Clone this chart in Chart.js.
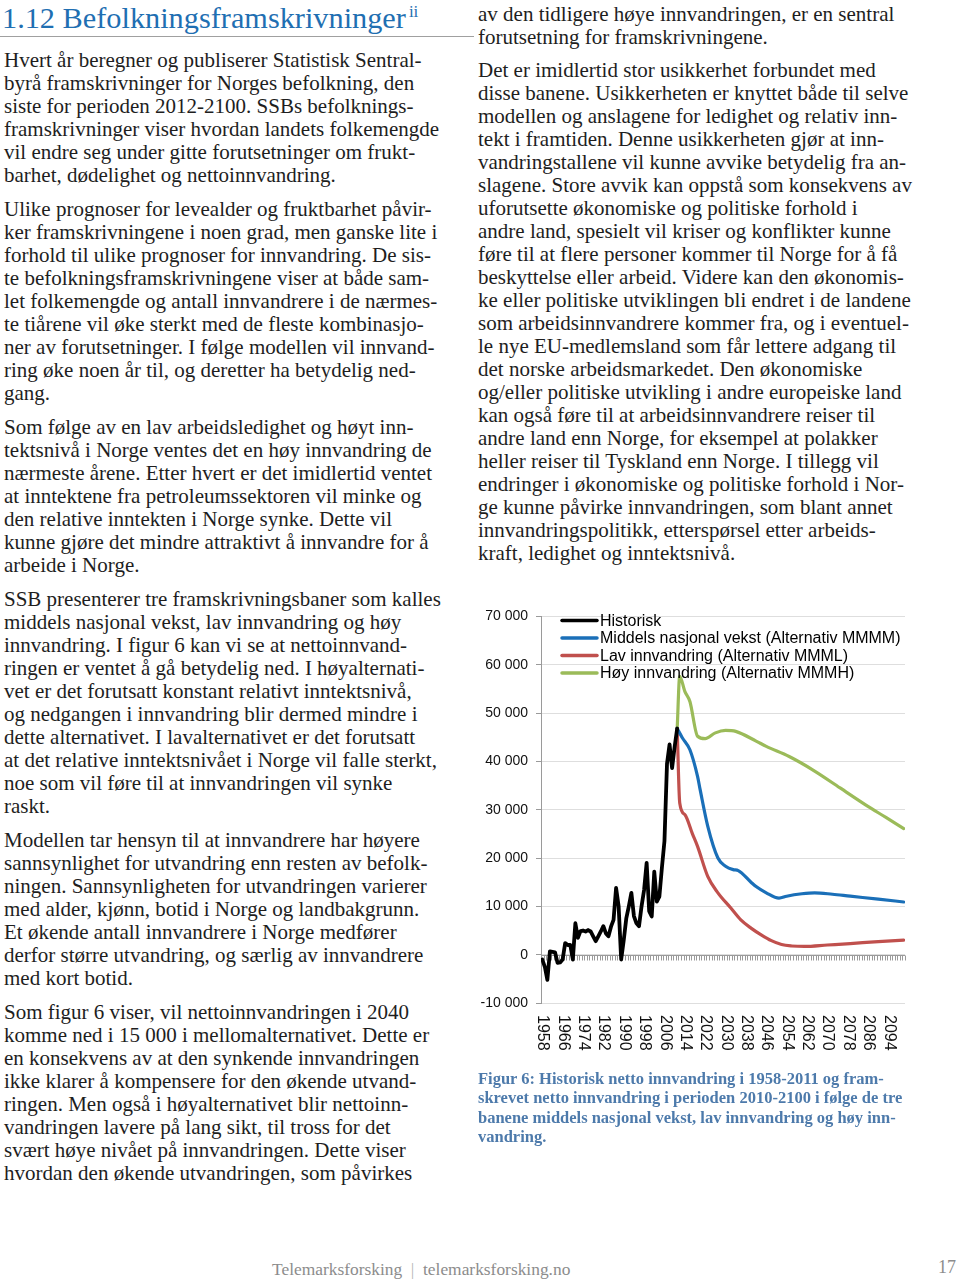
<!DOCTYPE html>
<html><head><meta charset="utf-8">
<script src="https://cdn.jsdelivr.net/npm/chart.js@4"></script>
<style>
html,body{margin:0;padding:0;background:#fff;}
#page{position:relative;width:960px;height:1279px;overflow:hidden;}
.t{position:absolute;white-space:nowrap;font-family:'Liberation Serif',serif;color:#1e1e1e;}
.b{font-size:21px;line-height:23px;}
.cap{font-size:16.5px;line-height:19px;font-weight:bold;color:#4d7aab;}
#title{left:2px;top:3px;font-size:30.3px;line-height:30px;color:#1f6fb2;}
#title sup{font-size:17px;vertical-align:0;position:relative;top:-11px;margin-left:3px;}
#rule{position:absolute;left:0;top:36px;width:474px;height:1px;background:#a0a0a0;}
#foot{left:272px;top:1259px;font-size:17.4px;line-height:20px;color:#8c8c8c;}
#pnum{left:938px;top:1257px;font-size:18px;line-height:20px;color:#8c8c8c;}
#c{position:absolute;left:470px;top:600px;}
</style></head>
<body><div id="page">
<div id="title" class="t">1.12 Befolkningsframskrivninger<sup>ii</sup></div>
<div id="rule"></div>
<canvas id="c" width="450" height="470"></canvas>
<div id="foot" class="t">Telemarksforsking &nbsp;<span style="color:#b5b5b5">|</span>&nbsp; telemarksforsking.no</div>
<div id="pnum" class="t">17</div>
</div>
<script>
// ---------- chart data ----------
const histYears = Array.from({length: 54}, (_, i) => 1958 + i);
const historisk = [-1000,-2500,-5200,700,600,500,-1700,-1600,-1000,2400,2000,2000,-1000,6500,3500,4900,5000,4800,5100,4800,3800,2800,3800,4800,5900,4400,3800,5800,7200,13800,10000,-1000,3000,7500,10000,12800,8000,6500,5900,10000,13400,19000,9000,7900,17200,11000,12000,18000,23500,39500,43500,38600,43000,46800];
const midYears = [2011,2013,2016,2019,2020,2023,2027,2030,2033,2035,2040,2042,2046,2051,2054,2060,2065,2072,2079,2090,2100];
const middels  = [46800,44900,42400,36900,34200,26600,20000,18300,17600,17400,15000,14100,12800,11700,12100,12600,12800,12500,12100,11500,10900];
const lavYears = [2011,2012,2014,2017,2019,2023,2027,2032,2036,2040,2044,2048,2052,2056,2061,2070,2079,2090,2100];
const lav      = [46800,31400,29000,25000,22400,16200,12800,9700,7200,5500,4100,2900,2100,1800,1700,2000,2300,2700,3000];
const hoyYears = [2011,2012,2014,2016,2019,2022,2026,2030,2034,2042,2046,2055,2065,2075,2085,2093,2100];
const hoy      = [46800,57600,54500,52400,45200,44700,45900,46400,46200,44200,43100,41000,38000,34500,31000,28400,26100];
const seriesNames = ['Historisk','Middels nasjonal vekst (Alternativ MMMM)','Lav innvandring (Alternativ MMML)','Høy innvandring (Alternativ MMMH)'];
const seriesColors = ['#000000','#1a6fb8','#c0504d','#9bbb59'];
const xTickLabels = ['1958','1966','1974','1982','1990','1998','2006','2014','2022','2030','2038','2046','2054','2062','2070','2078','2086','2094'];
const yTickValues = [-10000,0,10000,20000,30000,40000,50000,60000,70000];
const yTickLabels = ['-10 000','0','10 000','20 000','30 000','40 000','50 000','60 000','70 000'];
const firstYear = 1958, lastYear = 2100;

const pts = (xs, ys) => xs.map((x, i) => ({x: x, y: ys[i]}));

const zeroAxis = {
  id: 'zeroAxis',
  beforeDatasetsDraw(chart) {
    const {ctx, chartArea, scales: {x, y}} = chart;
    const y0 = Math.round(y.getPixelForValue(0)) + 0.5;
    ctx.save();
    ctx.strokeStyle = '#9a9a9a'; ctx.lineWidth = 1;
    ctx.beginPath();
    ctx.moveTo(chartArea.left, y0); ctx.lineTo(chartArea.right, y0);
    for (let yr = firstYear - 0.5; yr <= lastYear + 0.5; yr += 1) {
      const px = Math.round(x.getPixelForValue(yr)) + 0.5;
      ctx.moveTo(px, y0); ctx.lineTo(px, y0 + 5);
    }
    ctx.stroke();
    ctx.restore();
  },
  afterDraw(chart) {
    const {ctx, chartArea, scales: {x}} = chart;
    ctx.save();
    ctx.fillStyle = '#111';
    ctx.font = '16px "Liberation Sans", Arial, sans-serif';
    ctx.textAlign = 'left'; ctx.textBaseline = 'middle';
    xTickLabels.forEach(lab => {
      const px = x.getPixelForValue(Number(lab));
      ctx.save();
      ctx.translate(px + 0.5, chartArea.bottom + 12);
      ctx.rotate(Math.PI / 2);
      ctx.fillText(lab, 0, 0);
      ctx.restore();
    });
    // legend
    ctx.font = '16px "Liberation Sans", Arial, sans-serif';
    ctx.fillStyle = '#000';
    chart.data.datasets.forEach((ds, i) => {
      const ly = chartArea.top + 4 + i * 17.5;
      ctx.strokeStyle = ds.borderColor; ctx.lineWidth = 3.5; ctx.lineCap = 'round';
      ctx.beginPath(); ctx.moveTo(chartArea.left + 21, ly); ctx.lineTo(chartArea.left + 56, ly); ctx.stroke();
      ctx.fillText(ds.label, chartArea.left + 59, ly + 1);
    });
    ctx.restore();
  }
};

new Chart(document.getElementById('c'), {
  type: 'line',
  data: {
    datasets: [
      {label: seriesNames[0], data: pts(histYears, historisk), borderColor: seriesColors[0], borderWidth: 3.8, tension: 0, order: 1},
      {label: seriesNames[1], data: pts(midYears, middels), borderColor: seriesColors[1], borderWidth: 3.2, cubicInterpolationMode: 'monotone', order: 2},
      {label: seriesNames[2], data: pts(lavYears, lav), borderColor: seriesColors[2], borderWidth: 3.2, cubicInterpolationMode: 'monotone', order: 3},
      {label: seriesNames[3], data: pts(hoyYears, hoy), borderColor: seriesColors[3], borderWidth: 3.2, cubicInterpolationMode: 'monotone', order: 4}
    ]
  },
  options: {
    responsive: false, animation: false, devicePixelRatio: 1,
    layout: {padding: {left: 0, right: 15, top: 16, bottom: 0}},
    elements: {point: {radius: 0, hoverRadius: 0}, line: {borderJoinStyle: 'round', borderCapStyle: 'round', fill: false}},
    plugins: {legend: {display: false}, tooltip: {enabled: false}},
    scales: {
      x: {
        type: 'linear', min: firstYear - 0.5, max: lastYear + 0.5,
        grid: {display: false}, border: {display: false}, ticks: {display: false},
        afterFit(s) { s.height = 67; }
      },
      y: {
        min: -10000, max: 70000,
        afterBuildTicks(s) { s.ticks = yTickValues.map(v => ({value: v})); },
        ticks: {
          callback: (v) => yTickLabels[yTickValues.indexOf(v)],
          color: '#111', padding: 8,
          font: {family: '"Liberation Sans", Arial, sans-serif', size: 14}
        },
        grid: {color: '#dedede', lineWidth: 1, drawTicks: true, tickLength: 5, tickColor: '#9a9a9a'},
        border: {color: '#9a9a9a', width: 1},
        afterFit(s) { s.width = 71; }
      }
    }
  },
  plugins: [zeroAxis]
});

// ---------- page text ----------
const page = document.getElementById('page');
function addLines(x, c0, lh, lines, cls) {
  lines.forEach((s, i) => {
    const d = document.createElement('div');
    d.className = 't ' + cls;
    d.style.left = x + 'px';
    d.style.top = (c0 + i * lh - 11) + 'px';
    d.textContent = s;
    page.appendChild(d);
  });
}
addLines(4, 60, 23, [
 'Hvert år beregner og publiserer Statistisk Sentral-',
 'byrå framskrivninger for Norges befolkning, den',
 'siste for perioden 2012-2100. SSBs befolknings-',
 'framskrivninger viser hvordan landets folkemengde',
 'vil endre seg under gitte forutsetninger om frukt-',
 'barhet, dødelighet og nettoinnvandring.'], 'b');
addLines(4, 209, 23, [
 'Ulike prognoser for levealder og fruktbarhet påvir-',
 'ker framskrivningene i noen grad, men ganske lite i',
 'forhold til ulike prognoser for innvandring. De sis-',
 'te befolkningsframskrivningene viser at både sam-',
 'let folkemengde og antall innvandrere i de nærmes-',
 'te tiårene vil øke sterkt med de fleste kombinasjo-',
 'ner av forutsetninger. I følge modellen vil innvand-',
 'ring øke noen år til, og deretter ha betydelig ned-',
 'gang.'], 'b');
addLines(4, 427, 23, [
 'Som følge av en lav arbeidsledighet og høyt inn-',
 'tektsnivå i Norge ventes det en høy innvandring de',
 'nærmeste årene. Etter hvert er det imidlertid ventet',
 'at inntektene fra petroleumssektoren vil minke og',
 'den relative inntekten i Norge synke. Dette vil',
 'kunne gjøre det mindre attraktivt å innvandre for å',
 'arbeide i Norge.'], 'b');
addLines(4, 599, 23, [
 'SSB presenterer tre framskrivningsbaner som kalles',
 'middels nasjonal vekst, lav innvandring og høy',
 'innvandring. I figur 6 kan vi se at nettoinnvand-',
 'ringen er ventet å gå betydelig ned. I høyalternati-',
 'vet er det forutsatt konstant relativt inntektsnivå,',
 'og nedgangen i innvandring blir dermed mindre i',
 'dette alternativet. I lavalternativet er det forutsatt',
 'at det relative inntektsnivået i Norge vil falle sterkt,',
 'noe som vil føre til at innvandringen vil synke',
 'raskt.'], 'b');
addLines(4, 840, 23, [
 'Modellen tar hensyn til at innvandrere har høyere',
 'sannsynlighet for utvandring enn resten av befolk-',
 'ningen. Sannsynligheten for utvandringen varierer',
 'med alder, kjønn, botid i Norge og landbakgrunn.',
 'Et økende antall innvandrere i Norge medfører',
 'derfor større utvandring, og særlig av innvandrere',
 'med kort botid.'], 'b');
addLines(4, 1012, 23, [
 'Som figur 6 viser, vil nettoinnvandringen i 2040',
 'komme ned i 15 000 i mellomalternativet. Dette er',
 'en konsekvens av at den synkende innvandringen',
 'ikke klarer å kompensere for den økende utvand-',
 'ringen. Men også i høyalternativet blir nettoinn-',
 'vandringen lavere på lang sikt, til tross for det',
 'svært høye nivået på innvandringen. Dette viser',
 'hvordan den økende utvandringen, som påvirkes'], 'b');
addLines(478, 14, 23, [
 'av den tidligere høye innvandringen, er en sentral',
 'forutsetning for framskrivningene.'], 'b');
addLines(478, 70, 23, [
 'Det er imidlertid stor usikkerhet forbundet med',
 'disse banene. Usikkerheten er knyttet både til selve',
 'modellen og anslagene for ledighet og relativ inn-',
 'tekt i framtiden. Denne usikkerheten gjør at inn-',
 'vandringstallene vil kunne avvike betydelig fra an-',
 'slagene. Store avvik kan oppstå som konsekvens av',
 'uforutsette økonomiske og politiske forhold i',
 'andre land, spesielt vil kriser og konflikter kunne',
 'føre til at flere personer kommer til Norge for å få',
 'beskyttelse eller arbeid. Videre kan den økonomis-',
 'ke eller politiske utviklingen bli endret i de landene',
 'som arbeidsinnvandrere kommer fra, og i eventuel-',
 'le nye EU-medlemsland som får lettere adgang til',
 'det norske arbeidsmarkedet. Den økonomiske',
 'og/eller politiske utvikling i andre europeiske land',
 'kan også føre til at arbeidsinnvandrere reiser til',
 'andre land enn Norge, for eksempel at polakker',
 'heller reiser til Tyskland enn Norge. I tillegg vil',
 'endringer i økonomiske og politiske forhold i Nor-',
 'ge kunne påvirke innvandringen, som blant annet',
 'innvandringspolitikk, etterspørsel etter arbeids-',
 'kraft, ledighet og inntektsnivå.'], 'b');
addLines(478, 1080, 19.3, [
 'Figur 6: Historisk netto innvandring i 1958-2011 og fram-',
 'skrevet netto innvandring i perioden 2010-2100 i følge de tre',
 'banene middels nasjonal vekst, lav innvandring og høy inn-',
 'vandring.'], 'cap');
</script>
</body></html>
